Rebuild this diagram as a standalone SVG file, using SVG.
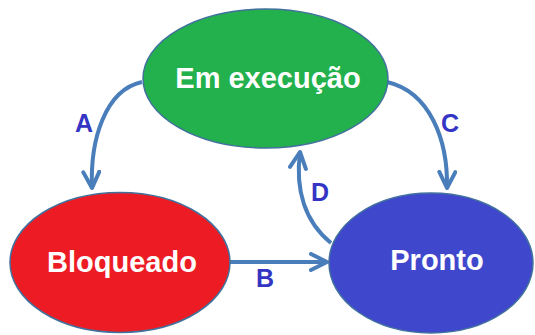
<svg xmlns="http://www.w3.org/2000/svg" width="535" height="335" viewBox="0 0 535 335">
<style>
.node{stroke:#41719c;stroke-width:1.5}
.ntext{font-family:"Liberation Sans",Arial,sans-serif;font-weight:bold;font-size:29px;fill:#ffffff;text-anchor:middle}
.edge{fill:none;stroke:#4a7ebb;stroke-width:4}
.elabel{font-family:"Liberation Sans",Arial,sans-serif;font-weight:bold;font-size:25px;fill:#3535c4;text-anchor:middle}
</style>
<defs>
<marker id="arr" viewBox="0 0 10 10" refX="9" refY="5" markerWidth="5" markerHeight="5" orient="auto" markerUnits="strokeWidth">
<polyline points="1,1 9,5 1,9" fill="none" stroke="#4a7ebb" stroke-width="2" stroke-linecap="round" stroke-linejoin="round"/>
</marker>
</defs>
<rect width="535" height="335" fill="#ffffff"/>
<g id="connectors">
<path class="edge" d="M142,82 C105,90 90,140 92,188" marker-end="url(#arr)"/>
<path class="edge" d="M387,82 C430,92 448,140 447,188" marker-end="url(#arr)"/>
<path class="edge" d="M230,262 L327,262" marker-end="url(#arr)"/>
<path class="edge" d="M331,243 C305,222 295,190 300,152" marker-end="url(#arr)"/>
<text class="elabel" x="84" y="132">A</text>
<text class="elabel" x="450" y="132">C</text>
<text class="elabel" x="265" y="287">B</text>
<text class="elabel" x="320" y="201">D</text>
</g>
<g id="em-execucao">
<ellipse class="node" cx="265.5" cy="78.5" rx="122.5" ry="69.5" fill="#22b14c"/>
<text class="ntext" x="268" y="88">Em execução</text>
</g>
<g id="bloqueado">
<ellipse class="node" cx="120" cy="262.5" rx="110" ry="70" fill="#ed1c24"/>
<text class="ntext" x="122" y="272">Bloqueado</text>
</g>
<g id="pronto">
<ellipse class="node" cx="431" cy="263" rx="102" ry="70" fill="#3f48cc"/>
<text class="ntext" x="437" y="270">Pronto</text>
</g>
</svg>
